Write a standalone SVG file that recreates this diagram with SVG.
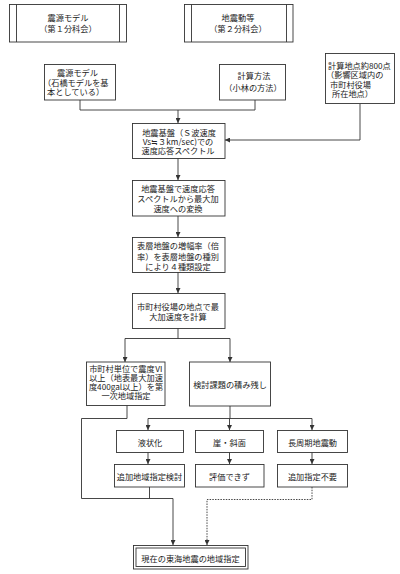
<svg xmlns="http://www.w3.org/2000/svg" width="400" height="574" viewBox="0 0 400 574">
<defs>
<style>
.b{fill:#fff;stroke:#333;stroke-width:0.9}
.c{fill:none;stroke:#333;stroke-width:0.9}
.d{fill:none;stroke:#333;stroke-width:0.9;stroke-dasharray:1.5,1.2}
text{font-family:"Noto Sans CJK JP","Noto Sans CJK SC",sans-serif;font-size:8.2px;fill:#222;text-anchor:middle;dominant-baseline:central}
.l{text-anchor:start}
</style>
<marker id="a" viewBox="0 0 6 6" refX="6" refY="3" markerWidth="5" markerHeight="5" markerUnits="userSpaceOnUse" orient="auto"><path d="M0,0L6,3L0,6z" fill="#333"/></marker>
</defs>
<rect width="400" height="574" fill="#fff"/>
<g id="n1"><rect class="b" x="9.5" y="4.5" width="117" height="37.5"/><path class="c" d="M16.5,4.5V42M119.5,4.5V42"/><text x="68" y="17">震源モデル<tspan x="68" dy="11">（第１分科会）</tspan></text></g>
<g id="n2"><rect class="b" x="184.5" y="4.5" width="108.5" height="37.5"/><path class="c" d="M191.5,4.5V42M286.5,4.5V42"/><text x="238" y="17">地震動等<tspan x="238" dy="11">（第２分科会）</tspan></text></g>
<g id="n3"><rect class="b" x="44.5" y="64.5" width="71" height="35.5"/><text class="l" x="57" y="72">震源モデル<tspan x="43" dy="9.7">（石橋モデルを基</tspan><tspan x="47" dy="9.3">本としている）</tspan></text></g>
<g id="n4"><rect class="b" x="219.5" y="64.5" width="66" height="35.5"/><text x="254" y="75">計算方法<tspan x="253" dy="12">（小林の方法）</tspan></text></g>
<g id="n5"><rect class="b" x="325.5" y="53.5" width="69" height="50"/><text class="l" x="328" y="65">計算地点約800点<tspan x="326" dy="9.3">（影響区域内の</tspan><tspan x="330" dy="9.3">市町村役場</tspan><tspan x="332" dy="9.3">所在地点）</tspan></text></g>
<g id="n6"><rect class="b" x="132.5" y="123.5" width="92.5" height="35"/><text x="179" y="131.5">地震基盤（Ｓ波速度<tspan x="178" dy="9.3">Vs≒３km/sec)での</tspan><tspan x="178" dy="9.5">速度応答スペクトル</tspan></text></g>
<g id="n7"><rect class="b" x="132.5" y="180.5" width="92.5" height="35.5"/><text x="178" y="187.5">地震基盤で速度応答<tspan x="178" dy="10.2">スペクトルから最大加</tspan><tspan x="178" dy="10.3">速度への変換</tspan></text></g>
<g id="n8"><rect class="b" x="132.5" y="237.5" width="92.5" height="35"/><text x="178" y="245">表層地盤の増幅率（倍<tspan x="178" dy="10.5">率）を表層地盤の種別</tspan><tspan x="178" dy="10.5">により４種類設定</tspan></text></g>
<g id="n9"><rect class="b" x="132.5" y="293.5" width="92.5" height="35"/><text x="178" y="306">市町村役場の地点で最<tspan x="178" dy="9.5">大加速度を計算</tspan></text></g>
<g id="n10"><rect class="b" x="86.5" y="362" width="78.5" height="43.5"/><text x="126" y="367.5">市町村単位で震度Ⅵ<tspan x="126" dy="9">以上（地表最大加速</tspan><tspan x="126" dy="9">度400gal以上）を第</tspan><tspan x="126" dy="9">一次地域指定</tspan></text></g>
<g id="n11"><rect class="b" x="189.5" y="362" width="81" height="44"/><text x="230" y="384">検討課題の積み残し</text></g>
<g id="n12"><rect class="b" x="116.5" y="430.5" width="67" height="22"/><text x="150" y="441.5">液状化</text></g>
<g id="n13"><rect class="b" x="195.5" y="430.5" width="68" height="22"/><text x="229.5" y="441.5">崖・斜面</text></g>
<g id="n14"><rect class="b" x="277.5" y="430.5" width="70" height="22"/><text x="312.5" y="441.5">長周期地震動</text></g>
<g id="n15"><rect class="b" x="114.5" y="464.5" width="70" height="22.5"/><text x="149.5" y="476">追加地域指定検討</text></g>
<g id="n16"><rect class="b" x="195.5" y="464.5" width="68.5" height="22.5"/><text x="229.5" y="476">評価できず</text></g>
<g id="n17"><rect class="b" x="277.5" y="464.5" width="70" height="22.5"/><text x="312.5" y="476">追加指定不要</text></g>
<g id="n18"><rect class="b" x="133.5" y="545.5" width="114.5" height="23.5"/><rect class="c" x="136" y="548" width="109.5" height="18.5"/><text x="190.5" y="557.5">現在の東海地震の地域指定</text></g>
<g id="connectors">
<path class="c" d="M80,100V110H255V100"/>
<path class="c" d="M178,110V123" marker-end="url(#a)"/>
<path class="c" d="M360,104V140H225" marker-end="url(#a)"/>
<path class="c" d="M178,158.5V180" marker-end="url(#a)"/>
<path class="c" d="M178,216V237" marker-end="url(#a)"/>
<path class="c" d="M178,272.5V293" marker-end="url(#a)"/>
<path class="c" d="M178,328.5V338.5M125,338.5H230"/>
<path class="c" d="M125,338.5V362" marker-end="url(#a)"/>
<path class="c" d="M230,338.5V362" marker-end="url(#a)"/>
<path class="c" d="M127,405.5V418.5H81.5V498.5H173V545" marker-end="url(#a)"/>
<path class="c" d="M149.5,487V498.5"/>
<path class="c" d="M230,406V418.5M148,418.5H312"/>
<path class="c" d="M148,418.5V430" marker-end="url(#a)"/>
<path class="c" d="M229.5,418.5V430" marker-end="url(#a)"/>
<path class="c" d="M312,418.5V430" marker-end="url(#a)"/>
<path class="c" d="M148,452.5V464" marker-end="url(#a)"/>
<path class="c" d="M229.5,452.5V464" marker-end="url(#a)"/>
<path class="c" d="M312,452.5V464" marker-end="url(#a)"/>
<path class="d" d="M312,487V499.5H207V545" marker-end="url(#a)"/>
</g>
</svg>
